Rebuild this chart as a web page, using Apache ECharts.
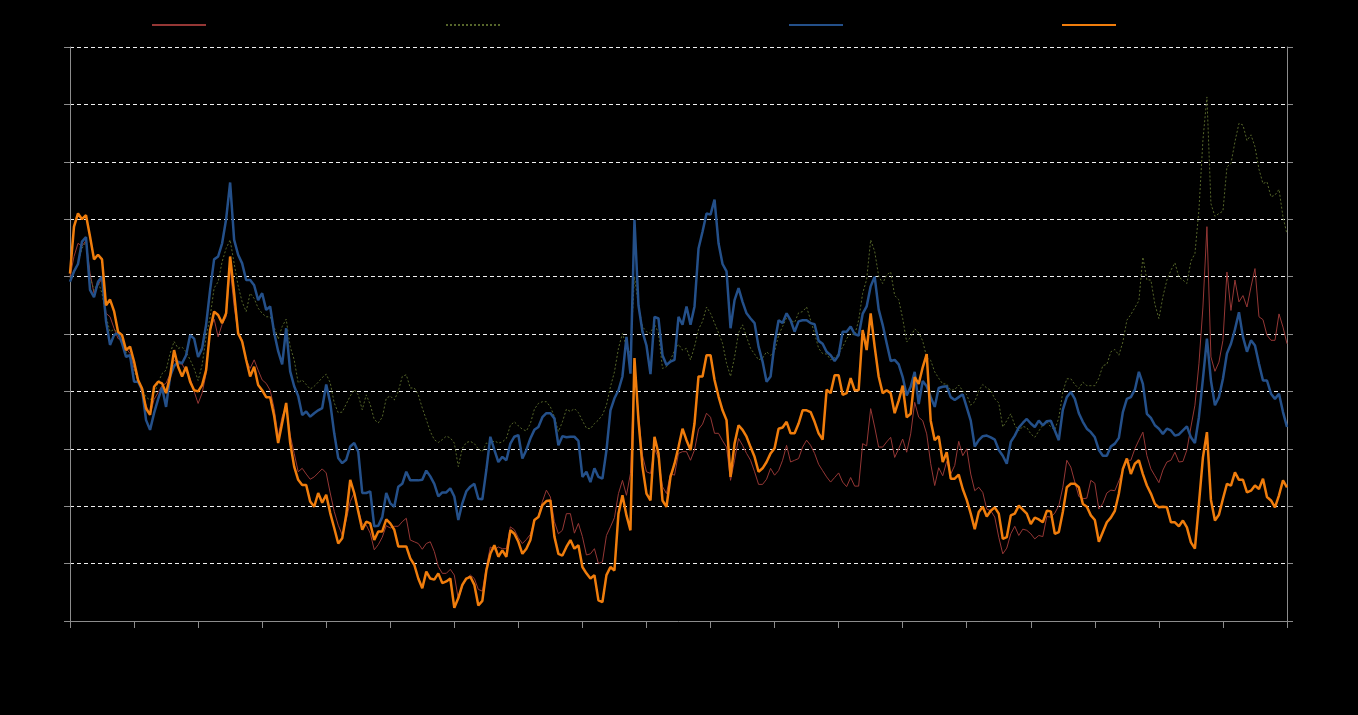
<!DOCTYPE html>
<html>
<head>
<meta charset="utf-8">
<script src="https://cdn.jsdelivr.net/npm/echarts@6/dist/echarts.min.js"></script>
<style>
html,body{margin:0;padding:0;background:#000;}
#chart{width:1358px;height:715px;}
</style>
</head>
<body>
<div id="chart"></div>
<script>
// Series names (legend text is black on black in the reference)
const seriesNames = ['Series 1', 'Series 2', 'Series 3', 'Series 4'];

// Red thin line
const redSeries = [60,63.5,65.8,65.3,66.3,60.6,57.1,58.5,59.7,53.6,53,51,49.2,49,47.5,46.6,44,42,39.7,37.6,
35.9,38.6,39.8,41,41.4,43.1,45.5,44.8,44.8,43.4,42.3,40,37.9,39.7,43.1,50.7,52.6,49.5,51.7,53,
61.5,54.8,50.1,49,45.5,44,45.5,43.7,42,41.4,40.2,37,32.2,35.6,37.4,32.4,29.2,26,26.6,25.6,
24.7,25.1,25.8,26.5,25.8,22.3,19.1,16.7,15,17.6,20.8,22.3,19.4,16.9,16.7,15.3,12.4,13.3,14.6,16.6,
16.2,16.5,16.5,17.3,17.9,14.1,13.8,13.5,12.5,13.5,13.8,12.1,9.5,8.3,8.3,9,8,3.8,6,7.4,
8,7.4,5.5,5.2,9.4,12.9,12.4,12.9,12.6,12.6,16.4,15.9,14.5,13.5,14.2,15.1,17.4,18.3,20.8,22.8,
21.6,17.3,15.2,15.8,18.7,18.7,15.3,17,14.7,11.5,11.7,12.6,10,10.3,14.9,16.4,18,22.2,24.5,21.9,
25.7,44.3,36,28.9,26,25.7,30.1,28.3,23.4,22.2,25.7,25.4,29.2,29.5,29.5,28,29.8,33.4,34.3,36.2,
35.5,32.7,32.7,31.4,30.3,24.5,28,31.8,30.6,29.2,28,26,23.8,23.8,24.7,26.6,25.4,26.2,28,30.6,
27.7,28,28.3,30.3,31.5,30.6,29.2,27.3,26.2,25.1,24.2,25,25.8,24.2,23.4,25,23.5,23.5,30.9,30.5,
37,33.8,30.3,30.3,31.2,32,28.5,30,31.7,29.4,32.6,38.1,35.5,34.9,32.6,27.4,23.6,26.7,25.3,27.8,
25.6,27.1,31.3,28.8,30,25.6,22.7,23.3,22.4,19.5,19.2,18.1,14.6,11.7,12.7,15.2,16.5,14.9,16,15.8,
15.2,14.3,14.9,14.7,18.2,18.1,18.8,20.1,23.3,28,26.8,24.2,21.7,21.3,21.4,24.5,24,19.5,20.5,22.3,
22.8,22.7,24.4,26.2,28,28,30,31.5,32.9,28.8,26.5,25.3,24.1,26.3,27.7,28,29.4,27.7,27.8,29.8,
33.8,37.6,44.8,54.7,68.7,46,43.5,45.1,48.9,60.8,54.1,59.4,55.6,56.7,54.7,58.2,61.4,53,52.5,49.8,
48.9,48.9,53.5,51.2,48.3];

// Olive dotted line
const oliveSeries = [59.8,61,62.3,64.9,66.1,60,57.6,59.1,57.1,53.1,50.4,50.8,50.2,48.4,46.9,45.8,43.7,41.7,40.5,39,
38.5,39.4,41.5,43.1,43.7,46.6,48.7,47.5,47.7,46.9,45.5,44,41.9,44.6,49.5,53,58,59.1,62.6,64.9,
66.4,62.3,58.4,55.6,53.9,57.1,56.2,54.5,53.6,53,53,51.2,49.1,51.3,52.6,47.8,45.5,41.5,42,41.2,
40.4,40.9,41.6,42.4,43,41.5,38,36.3,36.4,37.8,39.2,40.3,39.4,36.8,39.4,37.7,35.1,34.5,35.5,38.8,
39.2,38.5,40,42.6,42.9,40.6,40.6,39.4,37.1,35.1,33,31.6,31.1,31.6,32.2,31.9,31,26.9,30.1,31.1,
31.3,30.9,30,29.5,31,30.8,31.4,31,31.2,31.8,34.1,34.7,34,33.4,33.1,34.4,36.9,37.9,38.2,38.2,
37.3,35.6,33,34.7,36.9,36.5,37,36.3,34.9,33.6,33.5,34.4,35,35.9,37.6,40.8,43.4,47.5,50.1,47.8,
46.6,60,55,51.3,50.4,50.1,51.7,50.2,44,44.3,45.5,47.1,48.2,47.2,47.5,45.5,47.8,50.8,52.2,54.7,
53.6,51.9,50.2,48.4,44.9,42.6,46,50.2,51.6,49.5,47.5,46.5,45.5,45.8,46.9,46.3,46.9,49.8,51.3,52.8,
52.4,52,53.7,53.9,54.7,52.4,50.1,47.5,46.6,46.5,45.5,45.9,46.6,47.7,49.2,50.1,49.8,52.4,57.1,59.5,
66.4,64.4,60.1,58.8,60.3,60.8,56.7,56,52.7,48.6,49.5,50.9,50.2,48.8,45.9,45.4,43.4,42.3,41.3,41.3,
40.2,40.3,41.1,40.1,39.4,37.6,38.2,40.1,41.2,40.6,40.2,38.7,38,33.8,34.9,36.1,34.1,33.1,33.9,33.7,
32.6,32,33.1,34.1,34.7,33.8,33.3,35.4,39.9,42.2,42.2,41.2,40.5,41.6,41,41,41,42.3,44.5,44.7,
46.9,47.3,46.3,48.6,52.4,53.4,54.6,55.8,63.4,59.4,59.4,55.2,52.7,56.5,59.4,61.1,62.4,59.9,59.4,58.8,
62.7,64,71.6,83.8,91.3,72.7,70.5,71,71.4,79.1,79.7,83.5,86.7,86.4,83.7,84.7,82.6,78.7,76.2,76.5,
73.9,74.2,75.2,70.4,67.4];

// Blue thick line
const blueSeries = [59.1,60.9,62.2,66.1,66.9,57.7,56.4,59.1,60,52.2,48.1,49.8,50.2,48.4,46,46.3,41.7,41.7,40.3,35,
33.3,36.2,38.6,40.7,37.3,42.6,44.4,45.2,44.9,46.3,49.8,49.2,46,47.5,51.6,57.7,63,63.5,65.8,70,
76.4,66.4,63.8,62.3,59.4,59.4,58.5,55.9,57.1,54.2,54.8,50.2,47,44.7,51,43.5,40.9,39.2,35.9,36.5,
35.6,36.2,36.7,37.1,41.2,38,32.7,28.4,27.5,28.1,30.4,31,29.5,22.3,22.3,22.6,16.5,16.6,18.1,22.3,
20.5,19.9,23.4,23.9,26,24.5,24.5,24.5,24.6,26.2,25.2,23.9,21.7,22.4,22.4,23.1,21.7,17.6,20.5,22.6,
23.4,23.9,21.3,21.2,26.3,32.1,29.8,27.7,28.6,28,30.9,32.1,32.4,28.3,29.8,31.8,33.3,33.8,35.5,36.2,
36.2,35.3,30.6,32.2,32,32.1,32.1,31.4,25.1,26,24.2,26.6,25.1,24.8,29.7,36.7,38.8,40.2,42.6,49.5,
43.1,69.9,55,50.4,48,43,53,52.7,46.3,44.6,45.2,45.5,53,51.6,54.8,51.6,54.8,64.9,67.8,71,
70.8,73.4,65.8,62.2,60.9,51,55.9,58,55.6,53.6,52.7,51.9,47.8,45.2,41.7,42.6,48.4,52.4,51.9,53.6,
52.4,50.4,52.2,52.4,52.4,51.9,51.7,48.8,48.3,46.9,46.3,45.3,46.3,50.4,50.4,51.3,50,49.7,53.5,54.8,
58.3,60,54.3,51.6,48.4,45.3,45.5,44.7,42.5,39.3,40.8,43.4,37.8,41.8,40.9,39,37.3,40.6,40.8,40.9,
39,38.5,39,39.5,37.2,34.9,30.4,31.5,32.2,32.3,32,31.6,29.8,28.8,27.4,31.2,32.3,33.7,34.5,35.2,
34.4,33.8,34.9,34.1,34.8,34.9,33.2,31.5,36.8,39,39.9,38.7,36.2,34.7,33.5,32.9,32,29.8,28.8,28.8,
30.4,30.9,31.9,36.4,38.7,39,40.3,43.4,41.3,36.1,35.4,34.1,33.5,32.6,33.5,33.2,32.3,32.5,33.2,33.9,
32,31,35.5,42.2,49.2,41.9,37.6,39,42.2,46.6,48.3,50.8,53.8,49.5,46.9,48.9,48,44.8,41.9,41.9,
39.6,38.7,39.6,36.4,33.8];

// Orange thick line
const orangeSeries = [60.5,68.7,71,70,70.7,67,63,63.8,63,55,56,54,50.4,49.8,47.2,47.8,45.2,42,40.5,37,
35.9,40.8,41.7,41.4,39.7,42.6,47.2,44.3,42.6,44.3,41.7,40.2,40,41.1,43.7,50.7,53.9,53.3,51.9,53.6,
63.5,57.1,50.1,48.7,45.5,42.6,44.3,41.1,40.2,39,39,35.7,31,34.5,38,31,26.9,24.6,23.7,23.7,
20.8,19.9,22.3,20.6,22,18.8,16.2,13.5,14.4,18.5,24.6,22.3,19.1,15.9,17.3,17,14.1,15.6,15.6,17.7,
17,15.9,13,13,13,10.9,9.8,7.4,5.7,8.6,7.4,7.2,8.3,6.6,6.9,7.4,2.3,4,6.3,7.4,
7.7,6.3,2.7,3.5,8.8,11.7,13.2,11.2,12.3,11.2,15.8,15.2,13.8,11.7,12.6,14.1,17.6,18.1,20.2,20.9,
21,14.7,11.7,11.4,12.9,14.1,12.6,13.2,9.4,8.3,7.4,8,3.6,3.3,8,9.4,8.8,18.7,21.9,18.4,
15.8,45.8,35,26.9,22.2,21,32.1,29.2,21,19.9,25.1,27.4,30.3,33.5,31.5,29.8,34.4,42.6,42.6,46.3,
46.3,42,39.1,36.7,35,25.1,30.9,34.1,33.3,32.1,30.3,28.6,26,26.6,27.7,29.2,30.1,33.5,33.7,34.7,
32.7,32.7,34.4,36.7,36.7,36.4,34.7,32.7,31.6,40.3,39.7,42.8,42.8,39.4,39.7,42.3,40.2,40.2,50.7,47.2,
53.6,47.8,42.6,39.7,40.2,39.7,36.2,38.4,41,35.5,36.1,42.5,41.3,44.2,46.5,34.9,31.5,32.2,27.7,29.4,
24.8,24.8,25.5,23,21.1,18.7,16,19,19.9,18.2,19.2,19.8,18.7,14.3,14.6,18.4,18.7,20.1,19.4,18.7,
16.9,18,17.7,17.2,19.2,19.1,15.2,15.5,19,23.3,23.9,23.9,23.3,20.4,19.9,18.4,17.6,13.8,15.5,17.2,
18,19.2,22.2,26.5,28.3,25.6,27.4,28,25.6,23.6,22.2,20.4,19.8,19.9,19.8,17.2,17.2,16.5,17.5,16.3,
13.7,12.6,20.4,28.5,32.9,21.1,17.5,18.5,21.3,23.9,23.6,25.9,24.6,24.6,22.4,22.7,23.6,23,24.8,21.6,
21,19.8,21.9,24.5,23.3];

// Category positions (one per observation)
const categories = redSeries.map(function (_, i) { return String(i + 1); });

const chart = echarts.init(document.getElementById('chart'), null, {renderer: 'canvas'});

const axisGray = '#8c8c8c';
const colors = ['#953735', '#56662A', '#24508A', '#F07D0C'];
const legendLefts = [146, 440, 783, 1056];

const option = {
  backgroundColor: '#000000',
  animation: false,
  legend: seriesNames.map(function (n, k) {
    return {
      data: [n],
      left: legendLefts[k],
      top: 14,
      itemWidth: 54,
      itemHeight: 14,
      itemGap: 6,
      itemStyle: {opacity: 0},
      textStyle: {color: '#000000', fontSize: 12, fontFamily: 'Liberation Sans'},
      inactiveColor: '#000000'
    };
  }),
  grid: {left: 70, right: 71, top: 47, bottom: 94, containLabel: false},
  xAxis: {
    type: 'category',
    data: categories,
    boundaryGap: false,
    axisLine: {show: true, lineStyle: {color: axisGray, width: 1}},
    axisTick: {show: true, interval: 15, length: 7, lineStyle: {color: axisGray}},
    axisLabel: {show: true, interval: 15, color: '#000000', fontSize: 11},
    splitLine: {show: false}
  },
  yAxis: [
    {
      type: 'value', min: 0, max: 100, interval: 10, position: 'left',
      axisLine: {show: true, lineStyle: {color: axisGray, width: 1}},
      axisTick: {show: true, length: 6, lineStyle: {color: axisGray}},
      axisLabel: {show: true, color: '#000000', fontSize: 11},
      splitLine: {show: true, lineStyle: {color: '#f0f0f0', width: 1, type: [4, 3]}}
    },
    {
      type: 'value', min: 0, max: 100, interval: 10, position: 'right',
      axisLine: {show: true, lineStyle: {color: axisGray, width: 1}},
      axisTick: {show: true, length: 6, lineStyle: {color: axisGray}},
      axisLabel: {show: true, color: '#000000', fontSize: 11},
      splitLine: {show: false}
    }
  ],
  series: [
    {name: seriesNames[0], type: 'line', data: redSeries, symbol: 'none', z: 2,
     lineStyle: {color: colors[0], width: 1}, itemStyle: {color: colors[0]}},
    {name: seriesNames[1], type: 'line', data: oliveSeries, symbol: 'none', z: 3,
     lineStyle: {color: colors[1], width: 1, type: [2, 2]}, itemStyle: {color: colors[1]}},
    {name: seriesNames[2], type: 'line', data: blueSeries, symbol: 'none', z: 4,
     lineStyle: {color: colors[2], width: 2.5}, itemStyle: {color: colors[2]}},
    {name: seriesNames[3], type: 'line', data: orangeSeries, symbol: 'none', z: 5,
     lineStyle: {color: colors[3], width: 2.5}, itemStyle: {color: colors[3]}}
  ]
};
chart.setOption(option);
</script>
</body>
</html>
